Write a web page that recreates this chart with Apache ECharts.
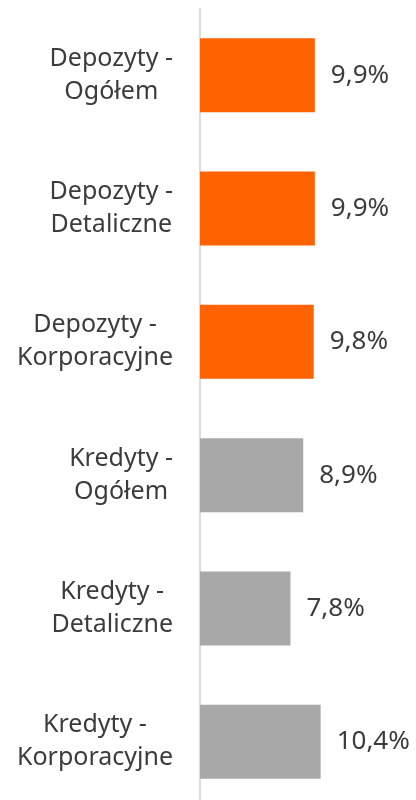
<!DOCTYPE html>
<html>
<head>
<meta charset="utf-8">
<script src="https://cdn.jsdelivr.net/npm/echarts@6/dist/echarts.min.js"></script>
<style>
  html, body { margin: 0; padding: 0; background: #fff; }
  #chart { width: 416px; height: 800px; }
</style>
</head>
<body>
<div id="chart"></div>
<script>
const categories = [
  'Depozyty -\nOgółem',
  'Depozyty -\nDetaliczne',
  'Depozyty -\nKorporacyjne',
  'Kredyty -\nOgółem',
  'Kredyty -\nDetaliczne',
  'Kredyty -\nKorporacyjne'
]
const values = [9.9, 9.9, 9.8, 8.9, 7.8, 10.4]
const barColors = ['#FF6200', '#FF6200', '#FF6200', '#A8A8A8', '#A8A8A8', '#A8A8A8']

const font = '"Noto Sans", sans-serif'
const chart = echarts.init(document.getElementById('chart'))

chart.setOption({
  animation: false,
  grid: { left: 200, top: 8.5, width: 174, height: 800, containLabel: false, outerBoundsMode: 'none' },
  xAxis: {
    type: 'value', min: 0, max: 15, show: false
  },
  yAxis: {
    type: 'category',
    data: categories,
    inverse: true,
    axisTick: { show: false },
    axisLine: { lineStyle: { color: '#DCDCDC', width: 2 } },
    axisLabel: {
      margin: 27,
      align: 'right',
      formatter: v => v.split('\n').map(s => '{c|' + s + '}').join('\n'),
      rich: {
        c: { align: 'center', fontSize: 25, lineHeight: 33, color: '#3C3C3C', fontFamily: font }
      }
    }
  },
  series: [{
    type: 'bar',
    data: values.map((v, i) => ({ value: v, itemStyle: { color: barColors[i] } })),
    barWidth: 74,
    label: {
      show: true,
      position: 'right',
      distance: 16,
      formatter: p => p.value.toFixed(1).replace('.', ',') + '%',
      fontSize: 26,
      color: '#3C3C3C',
      fontFamily: font
    }
  }]
})
</script>
</body>
</html>
